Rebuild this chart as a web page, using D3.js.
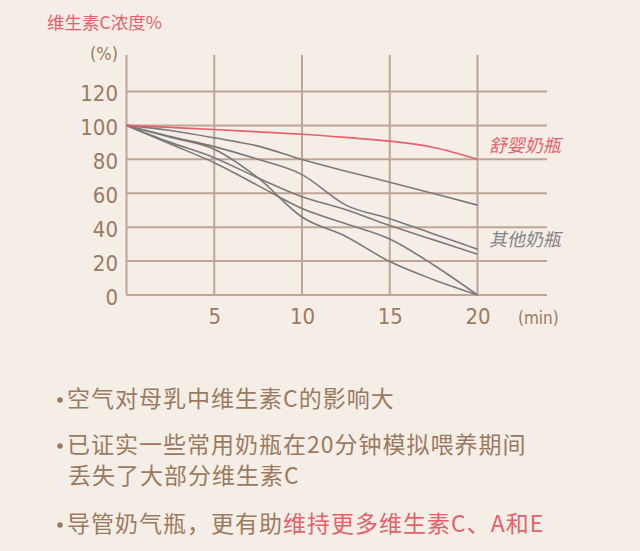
<!DOCTYPE html>
<html>
<head>
<meta charset="utf-8">
<script src="https://cdn.jsdelivr.net/npm/d3@7/dist/d3.min.js"></script>
<style>
  html, body { margin: 0; padding: 0; background: #f5eee7; }
  svg { display: block; }
  .num { font-family: "Liberation Sans Narrow", "DejaVu Sans Condensed", "Liberation Sans", sans-serif; fill: #9c7a60; }
  .cjk { font-family: "Noto Sans CJK SC", "Noto Sans", sans-serif; }
</style>
</head>
<body>
<script>
// minutes on the x axis
const minutes = [0, 2.5, 5, 7.5, 10, 12.5, 15, 17.5, 20];
// vitamin C concentration (%) per bottle
const ourBottle = [100, 98.8, 97.6, 96.2, 94.8, 92.9, 90.7, 87, 80];
const otherA = [100, 97, 92.7, 87.8, 79.9, 73, 66.5, 59.8, 53];
const otherB = [100, 93, 86, 69, 46, 34.5, 19.7, 9, 0];
const otherC = [100, 93.5, 87.5, 80, 71, 53, 45, 36, 27];
const otherD = [100, 90, 81, 69, 58, 50.3, 41, 32.5, 24];
const otherE = [100, 89, 78, 64.5, 51, 42, 33, 17.7, 0];
const otherBottles = [otherA, otherB, otherC, otherD, otherE];

const xTicks = [5, 10, 15, 20];
const yTicks = [0, 20, 40, 60, 80, 100, 120];

const bullets = [
  [{ t: '空气对母乳中维生素C的影响大' }],
  [{ t: '已证实一些常用奶瓶在20分钟模拟喂养期间' }],
  [{ t: '导管奶气瓶，更有助' }, { t: '维持更多维生素C、A和E', red: true }]
];

const width = 640, height = 551;
const brown = '#9c7a60', red = '#e8606a', gridColor = '#c0a597';

const svg = d3.select('body').append('svg')
  .attr('width', width)
  .attr('height', height);

svg.append('rect').attr('width', width).attr('height', height).attr('fill', '#f5eee7');

const x = d3.scaleLinear().domain([0, 20]).range([126.5, 477.5]);
const y = d3.scaleLinear().domain([0, 120]).range([295, 91.5]);

// grid
const grid = svg.append('g');
grid.selectAll('.hgrid')
  .data(yTicks)
  .enter().append('line')
  .attr('x1', x(0)).attr('x2', 547)
  .attr('y1', d => y(d)).attr('y2', d => y(d))
  .attr('stroke', gridColor).attr('stroke-width', 2);
grid.selectAll('.vgrid')
  .data([0].concat(xTicks))
  .enter().append('line')
  .attr('x1', d => x(d)).attr('x2', d => x(d))
  .attr('y1', 55).attr('y2', y(0))
  .attr('stroke', gridColor).attr('stroke-width', 2);

// axes (labels only)
const yAxis = svg.append('g')
  .attr('transform', `translate(${x(0)},0)`)
  .call(d3.axisLeft(y).tickValues(yTicks).tickSize(0).tickPadding(8.5));
const xAxis = svg.append('g')
  .attr('transform', `translate(0,${y(0)})`)
  .call(d3.axisBottom(x).tickValues(xTicks).tickSize(0).tickPadding(13));
[yAxis, xAxis].forEach(a => {
  a.select('.domain').remove();
  a.selectAll('text')
    .attr('class', 'num')
    .attr('font-size', 22)
    .attr('fill', brown);
});
yAxis.selectAll('text').attr('dy', '0.42em');

svg.append('text').attr('class', 'num')
  .attr('x', 118).attr('y', 60)
  .attr('text-anchor', 'end')
  .attr('font-size', 18)
  .text('(%)');
svg.append('text').attr('class', 'num')
  .attr('x', 518).attr('y', 324)
  .attr('font-size', 17)
  .text('(min)');

// lines
const line = d3.line()
  .x((d, i) => x(minutes[i]))
  .y(d => y(d))
  .curve(d3.curveMonotoneX);

svg.append('g').selectAll('path')
  .data(otherBottles)
  .enter().append('path')
  .attr('d', line)
  .attr('fill', 'none')
  .attr('stroke', '#7b7979')
  .attr('stroke-width', 1.6);

svg.append('path')
  .datum(ourBottle)
  .attr('d', line)
  .attr('fill', 'none')
  .attr('stroke', red)
  .attr('stroke-width', 1.7);

// series labels
svg.append('text').attr('class', 'cjk')
  .attr('transform', 'translate(489,152) skewX(-12)')
  .attr('font-size', 18).attr('fill', red)
  .text('舒婴奶瓶');
svg.append('text').attr('class', 'cjk')
  .attr('transform', 'translate(489,246) skewX(-12)')
  .attr('font-size', 18).attr('fill', '#858383')
  .text('其他奶瓶');

// title
svg.append('text').attr('class', 'cjk')
  .attr('x', 47).attr('y', 29)
  .attr('font-size', 17.5).attr('fill', red)
  .text('维生素C浓度%');

// bullets
const lineY = [407, 453, 532];
bullets.forEach((parts, i) => {
  svg.append('circle')
    .attr('cx', 60).attr('cy', lineY[i] - 7)
    .attr('r', 2.8).attr('fill', brown);
  const t = svg.append('text').attr('class', 'cjk')
    .attr('x', 67).attr('y', lineY[i])
    .attr('font-size', 23)
    .attr('letter-spacing', 1);
  parts.forEach(p => t.append('tspan').attr('fill', p.red ? red : brown).text(p.t));
});
svg.append('text').attr('class', 'cjk')
  .attr('x', 68).attr('y', 484)
  .attr('font-size', 23)
  .attr('letter-spacing', 1)
  .attr('fill', brown)
  .text('丢失了大部分维生素C');
</script>
</body>
</html>
